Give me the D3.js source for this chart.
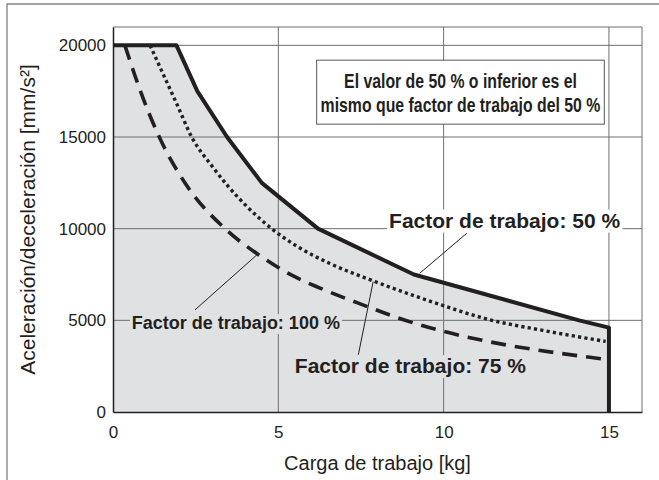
<!DOCTYPE html>
<html>
<head>
<meta charset="utf-8">
<script src="https://cdn.jsdelivr.net/npm/d3@7"></script>
<style>
    body { margin: 0; background: #fff; }
    svg { display: block; font-family: "Liberation Sans", Arial, Helvetica, sans-serif; }
</style>
</head>
<body>
<svg></svg>
<script>
// Curves: [carga kg, aceleracion mm/s2]
const factor50 = [[0, 20000], [1.92, 20000], [2.55, 17500], [3.45, 15000], [4.5, 12500],
                  [6.2, 10000], [9.1, 7500], [14.1, 5000], [15, 4600], [15, 0]];
const factor75 = [[1.12, 20000], [1.5, 18500], [1.93, 16800], [2.38, 15000], [3.0, 13400],
                  [3.44, 12400], [4.0, 11300], [4.8, 10000], [5.6, 9000], [6.56, 8100],
                  [7.87, 7150], [9.5, 6100], [11.4, 5030], [13.0, 4450], [14.9, 3850]];
const factor100 = [[0.36, 20000], [0.8, 17650], [1.4, 15000], [2.23, 12350], [3.39, 10000],
                   [4.4, 8580], [5.45, 7420], [6.26, 6760], [7.4, 5950], [8.6, 5150],
                   [15, 2850]];

const xTicks = [0, 5, 10, 15];
const yTicks = [0, 5000, 10000, 15000, 20000];

const boxLines = ['El valor de 50 % o inferior es el', 'mismo que factor de trabajo del 50 %'];
const labels = [
    {text: 'Factor de trabajo: 50 %', x: 8.35, y: 10060, size: 21, bg: '#fff', from: [10.7, 9750], to: [9.28, 7570]},
    {text: 'Factor de trabajo: 100 %', x: 0.57, y: 4520, size: 18, bg: '#e0e1e3', from: [2.48, 5570], to: [4.35, 8570]},
    {text: 'Factor de trabajo: 75 %', x: 5.5, y: 2125, size: 21, bg: '#e0e1e3', from: [7.42, 3120], to: [7.87, 7115]}
];

drawChart();

function drawChart() {
    const width = 659;
    const height = 480;
    const margin = {top: 27, right: 17, bottom: 68, left: 113};
    const ink = '#231f20';

    let svg = d3.select('svg')
                    .attr('width', width)
                    .attr('height', height);

    let xScale = d3.scaleLinear()
                    .domain([0, 16])
                    .range([margin.left, width - margin.right]);

    let yScale = d3.scaleLinear()
                    .domain([0, 21000])
                    .range([height - margin.bottom, margin.top]);

    //Grey area under the 50 % curve
    let area = d3.area()
                    .x(d => xScale(d[0]))
                    .y0(yScale(0))
                    .y1(d => yScale(d[1]));
    svg.append('path')
            .datum(factor50)
            .attr('d', area)
            .attr('fill', '#e0e1e3');

    //Grid
    let grid = svg.append('g').attr('stroke', '#6d6e70').attr('stroke-width', 1);
    grid.selectAll('.vgrid')
        .data(xTicks.filter(d => d > 0).concat([16]))
        .enter()
            .append('line')
            .attr('x1', d => xScale(d)).attr('x2', d => xScale(d))
            .attr('y1', yScale(0)).attr('y2', yScale(21000));
    grid.selectAll('.hgrid')
        .data(yTicks.filter(d => d > 0).concat([21000]))
        .enter()
            .append('line')
            .attr('x1', xScale(0)).attr('x2', xScale(16))
            .attr('y1', d => yScale(d)).attr('y2', d => yScale(d));

    //Note box
    svg.append('rect')
            .attr('x', xScale(6.16))
            .attr('y', yScale(19190))
            .attr('width', xScale(14.86) - xScale(6.16))
            .attr('height', yScale(15700) - yScale(19190))
            .attr('fill', '#fff')
            .attr('stroke', '#58595b')
            .attr('stroke-width', 1);
    //condensed bold text: squeeze horizontally to the widths seen in the picture
    svg.selectAll('.boxText')
        .data(boxLines)
        .enter()
            .append('text')
            .text(d => d)
            .attr('text-anchor', 'middle')
            .attr('font-size', 20)
            .attr('font-weight', 'bold')
            .attr('fill', ink)
            .attr('transform', function(d, i) {
                let sx = [233, 280][i] / this.getComputedTextLength();
                return `translate(${xScale(10.51)}, ${yScale([17700, 16375][i])}) scale(${sx}, 1)`;
            });

    //Curves
    let line = d3.line()
                    .x(d => xScale(d[0]))
                    .y(d => yScale(d[1]));
    let smooth = d3.line()
                    .x(d => xScale(d[0]))
                    .y(d => yScale(d[1]))
                    .curve(d3.curveMonotoneX);

    svg.append('path')
            .datum(factor100)
            .attr('d', smooth)
            .attr('fill', 'none')
            .attr('stroke', ink)
            .attr('stroke-width', 3.6)
            .attr('stroke-dasharray', '15,9');

    svg.append('path')
            .datum(factor75)
            .attr('d', smooth)
            .attr('fill', 'none')
            .attr('stroke', ink)
            .attr('stroke-width', 3.4)
            .attr('stroke-dasharray', '3.2,3.2');

    svg.append('path')
            .datum(factor50)
            .attr('d', line)
            .attr('fill', 'none')
            .attr('stroke', ink)
            .attr('stroke-width', 4)
            .attr('stroke-linejoin', 'round');

    //Curve labels with a background that hides the grid
    labels.forEach(l => {
        let g = svg.append('g');
        let bg = g.append('rect').attr('fill', l.bg);
        let t = g.append('text')
                    .text(l.text)
                    .attr('x', xScale(l.x))
                    .attr('y', yScale(l.y))
                    .attr('font-size', l.size)
                    .attr('font-weight', 'bold')
                    .attr('fill', ink);
        let box = t.node().getBBox();
        bg.attr('x', box.x - 2)
          .attr('y', box.y + 1)
          .attr('width', box.width + 4)
          .attr('height', box.height);
        svg.append('line')
                .attr('x1', xScale(l.from[0])).attr('y1', yScale(l.from[1]))
                .attr('x2', xScale(l.to[0])).attr('y2', yScale(l.to[1]))
                .attr('stroke', ink)
                .attr('stroke-width', 1);
    });

    //Axes
    let xAxis = d3.axisBottom(xScale)
                    .tickValues(xTicks)
                    .tickSize(0)
                    .tickPadding(14);
    let gx = svg.append('g')
            .attr('transform', `translate(0, ${yScale(0)})`)
            .call(xAxis);

    let yAxis = d3.axisLeft(yScale)
                    .tickValues(yTicks)
                    .tickFormat(d3.format('d'))
                    .tickSize(0)
                    .tickPadding(7);
    let gy = svg.append('g')
            .attr('transform', `translate(${xScale(0)}, 0)`)
            .call(yAxis);

    [gx, gy].forEach(g => {
        g.select('.domain').attr('stroke', ink).attr('stroke-width', 1.5);
        g.selectAll('text')
            .attr('font-size', 17)
            .attr('font-family', '"Liberation Sans", Arial, sans-serif')
            .attr('fill', ink);
    });

    //Axes labels
    svg.append('text')
            .text('Carga de trabajo [kg]')
            .attr('x', (xScale(0) + xScale(16)) / 2)
            .attr('y', 470)
            .attr('text-anchor', 'middle')
            .attr('font-size', 20)
            .attr('fill', ink);

    svg.append('text')
            .text('Aceleración/deceleración [mm/s²]')
            .attr('transform', `translate(35, ${(yScale(0) + yScale(21000)) / 2}) rotate(-90)`)
            .attr('text-anchor', 'middle')
            .attr('font-size', 21)
            .attr('fill', ink);

    //Outer frame (top and left edges)
    svg.append('path')
            .attr('d', `M7,${height} V4 H${width}`)
            .attr('fill', 'none')
            .attr('stroke', '#808285')
            .attr('stroke-width', 1.3);
}
</script>
</body>
</html>
